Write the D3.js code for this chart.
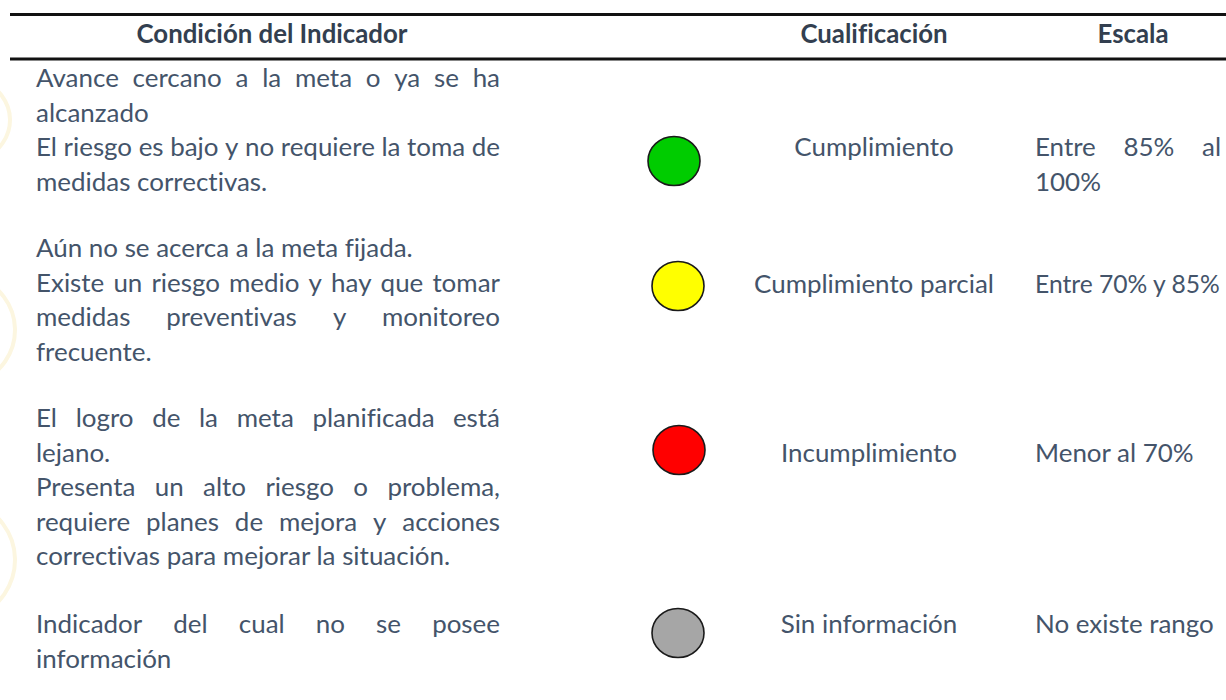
<!DOCTYPE html>
<html><head><meta charset="utf-8">
<script src="https://cdn.jsdelivr.net/npm/d3@7"></script>
<style>html,body{margin:0;padding:0;background:#fff;overflow:hidden} text{font-variant-ligatures:none;font-feature-settings:"liga" 0}</style>
</head><body>
<svg id="chart" width="1226" height="700"></svg>
<script>
// ---------- data ----------
const headers = ["Condición del Indicador", "Cualificación", "Escala"];
const conditionLines = [
  [["Avance cercano a la meta o ya se ha", true], ["alcanzado", false], ["El riesgo es bajo y no requiere la toma de", true], ["medidas correctivas.", false]],
  [["Aún no se acerca a la meta fijada.", false], ["Existe un riesgo medio y hay que tomar", true], ["medidas preventivas y monitoreo", true], ["frecuente.", false]],
  [["El logro de la meta planificada está", true], ["lejano.", false], ["Presenta un alto riesgo o problema,", true], ["requiere planes de mejora y acciones", true], ["correctivas para mejorar la situación.", false]],
  [["Indicador del cual no se posee", true], ["información", false]]
];
const qualifications = ["Cumplimiento", "Cumplimiento parcial", "Incumplimiento", "Sin información"];
const scaleLines = [
  [["Entre 85% al", true], ["100%", false]],
  [["Entre 70% y 85%", false]],
  [["Menor al 70%", false]],
  [["No existe rango", false]]
];
const lightColors = ["#00cc00", "#ffff00", "#ff0000", "#a6a6a6"];

// ---------- layout ----------
const rowFirstLine = [78, 248, 418, 624];
const circleCenter = [[674, 161], [678, 286], [679, 450], [678, 633]];
const qualY = [147, 284, 453, 624];
const lineH = 34.6;
const textColor = "#44546a";
const headColor = "#333f50";
const FONT = "Lato, 'Open Sans', sans-serif";

const svg = d3.select("#chart");
const ctx = document.createElement("canvas").getContext("2d");
function w(txt, size, weight) { ctx.font = `${weight||"normal"} ${size}px Lato`; return ctx.measureText(txt).width; }
const bodySize = 240 / w("Cumplimiento parcial", 1);
const headSize = 271 / w("Condición del Indicador", 1, "bold");

// faint watermark arcs on the left
const wm = svg.append("g").attr("fill", "none").attr("stroke", "#fcf6e0").attr("stroke-width", 4);
[[-30, 120, 40], [-40, 330, 55], [-45, 560, 60]].forEach(([cx, cy, r]) => {
  wm.append("path").attr("d", d3.arc()({innerRadius: r, outerRadius: r, startAngle: 0.3, endAngle: 2.8})).attr("transform", `translate(${cx},${cy})`);
});

// rules
svg.append("line").attr("x1", 10).attr("x2", 1226).attr("y1", 14.5).attr("y2", 14.5).attr("stroke", "#111").attr("stroke-width", 3.2);
svg.append("line").attr("x1", 10).attr("x2", 1226).attr("y1", 59).attr("y2", 59).attr("stroke", "#111").attr("stroke-width", 3.2);

// headers
const colX = d3.scaleOrdinal().domain(headers).range([272, 874, 1133]);
svg.selectAll("text.head").data(headers).join("text").attr("class", "head")
  .attr("x", d => colX(d)).attr("y", 34).attr("dy", "0.35em")
  .attr("text-anchor", "middle").attr("font-family", FONT).attr("font-weight", "bold")
  .attr("font-size", headSize).attr("fill", headColor).text(d => d);

// justified line helper
function drawLine(g, txt, justify, x0, x1, y) {
  const words = txt.split(" ");
  if (!justify || words.length < 2) {
    const tw = w(txt, bodySize);
    const t = g.append("text").attr("x", x0).attr("y", y).attr("dy", "0.35em").text(txt);
    if (x0 + tw > x1) t.attr("font-size", bodySize * (x1 - x0) / tw);
    return;
  }
  const widths = words.map(s => w(s, bodySize));
  const gap = (x1 - x0 - d3.sum(widths)) / (words.length - 1);
  let x = x0;
  words.forEach((s, i) => {
    g.append("text").attr("x", x).attr("y", y).attr("dy", "0.35em").text(s);
    x += widths[i] + gap;
  });
}

const body = svg.append("g").attr("font-family", FONT).attr("font-size", bodySize).attr("fill", textColor);
conditionLines.forEach((lines, r) => {
  lines.forEach(([t, j], i) => drawLine(body, t, j, 36, 500, rowFirstLine[r] + i * lineH));
});
scaleLines.forEach((lines, r) => {
  lines.forEach(([t, j], i) => drawLine(body, t, j, 1035, 1221, qualY[r] + i * lineH));
});
body.selectAll("text.q").data(qualifications).join("text").attr("class", "q")
  .attr("x", (d, i) => i < 2 ? 874 : 869).attr("y", (d, i) => qualY[i]).attr("dy", "0.35em")
  .attr("text-anchor", "middle").text(d => d);

// traffic lights
svg.selectAll("ellipse.light").data(lightColors).join("ellipse").attr("class", "light")
  .attr("cx", (d, i) => circleCenter[i][0]).attr("cy", (d, i) => circleCenter[i][1])
  .attr("rx", 26).attr("ry", 24.5).attr("fill", d => d).attr("stroke", "#1a1a1a").attr("stroke-width", 1.6);
</script>
</body></html>
